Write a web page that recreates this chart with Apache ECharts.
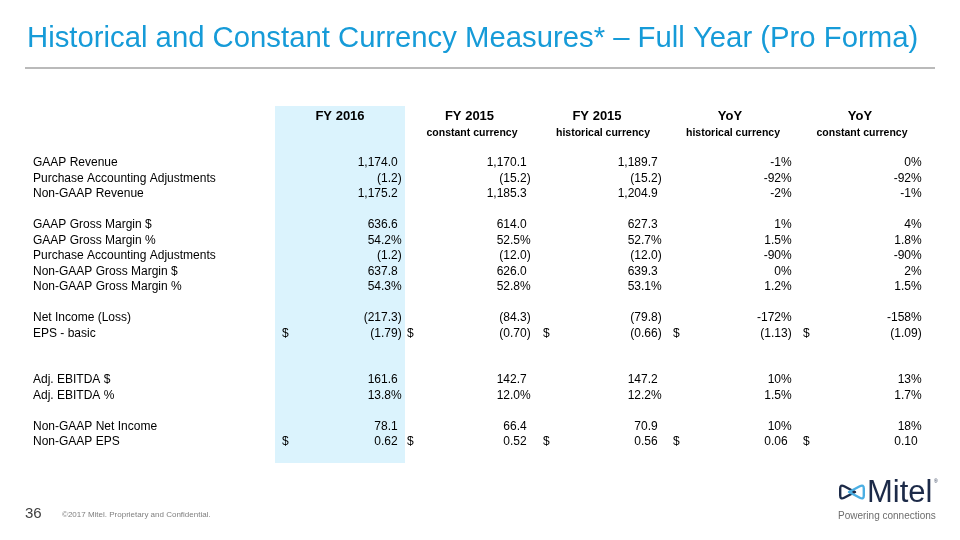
<!DOCTYPE html>
<html>
<head>
<meta charset="utf-8">
<style>html,body{margin:0;padding:0;background:#fff}#c{width:960px;height:540px}</style>
<script src="https://cdn.jsdelivr.net/npm/echarts/dist/echarts.min.js"></script>
</head>
<body>
<div id="c"></div>
<script>
// ---------- data ----------
const titleText = 'Historical and Constant Currency Measures* \u2013 Full Year (Pro Forma)';
const columnHeaders = ['FY 2016', 'FY 2015', 'FY 2015', 'YoY', 'YoY'];
const columnSubHeaders = ['', 'constant currency', 'historical currency', 'historical currency', 'constant currency'];
const rowLabels = [
  'GAAP Revenue', 'Purchase Accounting Adjustments', 'Non-GAAP Revenue',
  'GAAP Gross Margin $', 'GAAP Gross Margin %', 'Purchase Accounting Adjustments',
  'Non-GAAP Gross Margin $', 'Non-GAAP Gross Margin %',
  'Net Income (Loss)', 'EPS - basic',
  'Adj. EBITDA $', 'Adj. EBITDA %',
  'Non-GAAP Net Income', 'Non-GAAP EPS'
];
const fy2016 = [1174.0, -1.2, 1175.2, 636.6, 54.2, -1.2, 637.8, 54.3, -217.3, -1.79, 161.6, 13.8, 78.1, 0.62];
const fy2015Constant = [1170.1, -15.2, 1185.3, 614.0, 52.5, -12.0, 626.0, 52.8, -84.3, -0.70, 142.7, 12.0, 66.4, 0.52];
const fy2015Historical = [1189.7, -15.2, 1204.9, 627.3, 52.7, -12.0, 639.3, 53.1, -79.8, -0.66, 147.2, 12.2, 70.9, 0.56];
const yoyHistorical = [-1, -92, -2, 1, 1.5, -90, 0, 1.2, -172, -1.13, 10, 1.5, 10, 0.06];
const yoyConstant = [0, -92, -1, 4, 1.8, -90, 2, 1.5, -158, -1.09, 13, 1.7, 18, 0.10];
const levelFormats = ['n1', 'n1', 'n1', 'n1', 'p1', 'n1', 'n1', 'p1', 'n1', 'd2', 'n1', 'p1', 'n1', 'd2'];
const yoyFormats = ['p0', 'p0', 'p0', 'p0', 'p1', 'p0', 'p0', 'p1', 'p0', 'd2', 'p0', 'p1', 'p0', 'd2'];
const footerPage = '36';
const footerNote = '\u00a92017 Mitel. Proprietary and Confidential.';

// ---------- layout ----------
const FONT = '"Liberation Sans", Arial, Helvetica, sans-serif';
const SLOT_COUNT = 23;
const rowSlots = [3, 4, 5, 7, 8, 9, 10, 11, 13, 14, 17, 18, 20, 21];
const headerSlot = 0, subHeaderSlot = 1;
const colRight = [401.7, 530.7, 661.7, 791.7, 921.7];
const colDollar = [282, 407, 543, 673, 803];
const headerCenter = [340, 469.5, 597, 730, 860];
const subHeaderCenter = [340, 472, 603, 733, 862];
const labelX = 33;

const columns = [
  { values: fy2016, formats: levelFormats },
  { values: fy2015Constant, formats: levelFormats },
  { values: fy2015Historical, formats: levelFormats },
  { values: yoyHistorical, formats: yoyFormats },
  { values: yoyConstant, formats: yoyFormats }
];

function fmt(v, f) {
  if (f === 'p0' || f === 'p1') {
    const d = f === 'p1' ? 1 : 0;
    return { text: '{v|' + (v < 0 ? '-' : '') + Math.abs(v).toFixed(d) + '%}', dollar: false };
  }
  const d = f === 'd2' ? 2 : 1;
  const s = Math.abs(v).toLocaleString('en-US', { minimumFractionDigits: d, maximumFractionDigits: d });
  const t = v < 0 ? '{v|(' + s + ')}' : '{v|' + s + '}{h|)}';
  return { text: t, dollar: f === 'd2' };
}

const cells = [];
columns.forEach((col, c) => {
  cells.push({ x: headerCenter[c], slot: headerSlot, text: columnHeaders[c], kind: 'head' });
  if (columnSubHeaders[c]) cells.push({ x: subHeaderCenter[c], slot: subHeaderSlot, text: columnSubHeaders[c], kind: 'sub' });
  col.values.forEach((v, i) => {
    const r = fmt(v, col.formats[i]);
    cells.push({ x: colRight[c], slot: rowSlots[i], text: r.text, kind: 'num' });
    if (r.dollar) cells.push({ x: colDollar[c], slot: rowSlots[i], text: '$', kind: 'label' });
  });
});
rowLabels.forEach((l, i) => cells.push({ x: labelX, slot: rowSlots[i], text: l, kind: 'label' }));

const slotNames = Array.from({ length: SLOT_COUNT }, (_, i) => 's' + i);
const rich = {
  v: { fontSize: 12, fontFamily: FONT, fill: '#000' },
  h: { fontSize: 12, fontFamily: FONT, fill: 'rgba(255,255,255,0)', opacity: 0 }
};

const chart = echarts.init(document.getElementById('c'), null, { renderer: 'canvas' });
chart.setOption({
  animation: false,
  backgroundColor: '#fff',
  grid: { left: 0, right: 0, top: 108.45, height: SLOT_COUNT * 15.5 },
  xAxis: { type: 'value', min: 0, max: 960, show: false },
  yAxis: { type: 'category', data: slotNames, inverse: true, show: false },
  graphic: [
    { type: 'rect', z: 0, shape: { x: 275, y: 106, width: 130, height: 357 }, style: { fill: '#dbf3fd' } },
    { type: 'text', z: 5, style: { x: 27, y: 39, text: titleText, fill: '#169bd8', font: 'normal 29.3px ' + FONT, verticalAlign: 'middle' } },
    { type: 'line', z: 5, shape: { x1: 25, y1: 68, x2: 935, y2: 68 }, style: { stroke: '#a3a3a3', lineWidth: 1.5 } },
    { type: 'text', z: 5, style: { x: 25, y: 514, text: footerPage, fill: '#404040', font: 'normal 15px ' + FONT, verticalAlign: 'middle' } },
    { type: 'text', z: 5, style: { x: 62, y: 515, text: footerNote, fill: '#808080', font: 'normal 8px ' + FONT, verticalAlign: 'middle' } },
    { type: 'text', z: 5, style: { x: 867, y: 493, text: 'Mitel', fill: '#1c2a48', font: 'normal 31px ' + FONT, verticalAlign: 'middle' } },
    { type: 'text', z: 5, style: { x: 934, y: 482, text: '\u00ae', fill: '#1c2a48', font: 'normal 5px ' + FONT, verticalAlign: 'middle' } },
    { type: 'text', z: 5, style: { x: 838, y: 516, text: 'Powering connections', fill: '#6d6d6d', font: 'normal 10px ' + FONT, verticalAlign: 'middle' } }
  ],
  series: [{
    type: 'custom',
    coordinateSystem: 'cartesian2d',
    data: cells.map(c => [c.x, c.slot]),
    renderItem: function (params, api) {
      const cell = cells[params.dataIndex];
      const p = api.coord([api.value(0), api.value(1)]);
      let style;
      if (cell.kind === 'head') {
        style = { x: p[0], y: p[1] + 0.5, text: cell.text, fill: '#000', font: 'bold 13px ' + FONT, align: 'center', verticalAlign: 'middle' };
      } else if (cell.kind === 'sub') {
        style = { x: p[0], y: p[1] + 1.5, text: cell.text, fill: '#000', font: 'bold 10.5px ' + FONT, align: 'center', verticalAlign: 'middle' };
      } else if (cell.kind === 'num') {
        style = { x: p[0], y: p[1], text: cell.text, rich: rich, fill: '#000', font: 'normal 12px ' + FONT, align: 'right', verticalAlign: 'middle' };
      } else {
        style = { x: p[0], y: p[1], text: cell.text, fill: '#000', font: 'normal 12px ' + FONT, align: 'left', verticalAlign: 'middle' };
      }
      return { type: 'text', style: style };
    }
  }, {
    type: 'custom',
    coordinateSystem: 'none',
    silent: true,
    data: [0],
    renderItem: function () {
      return {
        type: 'group', x: 839, y: 485,
        children: [
          { type: 'path', shape: { pathData: 'M16 7 L5.2 1.3 Q1.2 -0.8 1.2 3.6 L1.2 10.4 Q1.2 14.8 5.2 12.7 Z' }, style: { fill: 'none', stroke: '#1c2a48', lineWidth: 2.4, lineJoin: 'round' } },
          { type: 'path', shape: { pathData: 'M10 7 L20.8 1.3 Q24.8 -0.8 24.8 3.6 L24.8 10.4 Q24.8 14.8 20.8 12.7 Z' }, style: { fill: 'none', stroke: '#4aaee3', lineWidth: 2.4, lineJoin: 'round' } }
        ]
      };
    }
  }]
});
</script>
</body>
</html>
